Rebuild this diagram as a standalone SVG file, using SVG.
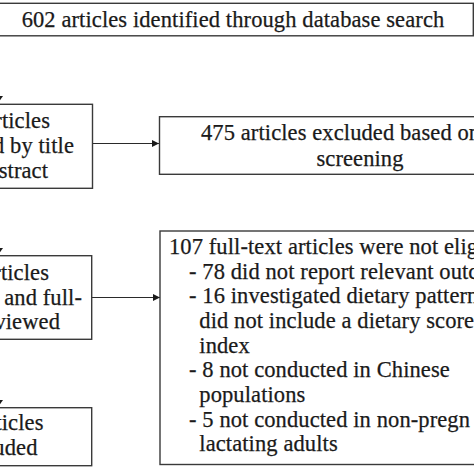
<svg xmlns="http://www.w3.org/2000/svg" width="474" height="474" viewBox="0 0 474 474">
<defs>
<marker id="ah" markerWidth="7" markerHeight="8" refX="7" refY="4" orient="auto" markerUnits="userSpaceOnUse">
<path d="M0,0.5 L7,4 L0,7.5 Z" fill="#1a1a1a"/>
</marker>
<style>
.box{fill:#ffffff;stroke:#3a3a3a;stroke-width:1.4}
.t{font-family:'Liberation Serif',serif;font-size:22.5px;letter-spacing:0.1px;fill:#1a1a1a;stroke:#1a1a1a;stroke-width:0.25}
.c{stroke:#2a2a2a;stroke-width:1.2;fill:none}
.head{fill:#1a1a1a}
</style>
</defs>
<rect width="474" height="474" fill="#ffffff"/>
<g id="connectors">
<line class="c" x1="92" y1="143.5" x2="159" y2="143.5" marker-end="url(#ah)"/>
<line class="c" x1="92" y1="297.5" x2="160" y2="297.5" marker-end="url(#ah)"/>
<path class="head" d="M-7,96 L3,96 L-2,103 Z"/>
<path class="head" d="M-7,248 L3,248 L-2,255 Z"/>
<path class="head" d="M-7,400 L3,400 L-2,407 Z"/>
</g>
<g id="n-identified">
<rect class="box" x="-10" y="3.3" width="483.3" height="32.5"/>
<text class="t" x="233" y="26.5" text-anchor="middle">602 articles identified through database search</text>
</g>
<g id="n-screened">
<rect class="box" x="-20" y="104.3" width="112.5" height="84"/>
<text class="t" x="50" y="128" text-anchor="end">rticles</text>
<text class="t" x="74" y="153" text-anchor="end">d by title</text>
<text class="t" x="48" y="178" text-anchor="end">stract</text>
</g>
<g id="n-excluded1">
<rect class="box" x="159.5" y="116.7" width="340" height="57.6"/>
<text class="t" x="201" y="140">475 articles excluded based on</text>
<text class="t" x="360" y="165.5" text-anchor="middle">screening</text>
</g>
<g id="n-fulltext">
<rect class="box" x="-20" y="255.7" width="111.7" height="83.6"/>
<text class="t" x="49" y="280" text-anchor="end">rticles</text>
<text class="t" x="82" y="304.5" text-anchor="end">and full-</text>
<text class="t" x="60" y="329" text-anchor="end">viewed</text>
</g>
<g id="n-noteligible">
<rect class="box" x="160" y="231" width="340" height="233.5"/>
<text class="t" x="169" y="254.3">107 full-text articles were not eligi</text>
<text class="t" x="189" y="279">- 78 did not report relevant outc</text>
<text class="t" x="189" y="303.3">- 16 investigated dietary pattern</text>
<text class="t" x="199.3" y="328.3">did not include a dietary score</text>
<text class="t" x="199.3" y="352.7">index</text>
<text class="t" x="189" y="377.3">- 8 not conducted in Chinese</text>
<text class="t" x="199.3" y="401.7">populations</text>
<text class="t" x="189" y="426.7">- 5 not conducted in non-pregn</text>
<text class="t" x="199.3" y="450.7">lactating adults</text>
</g>
<g id="n-included">
<rect class="box" x="-20" y="407.7" width="111.7" height="58"/>
<text class="t" x="43.5" y="430" text-anchor="end">ticles</text>
<text class="t" x="37.5" y="455" text-anchor="end">uded</text>
</g>
</svg>
